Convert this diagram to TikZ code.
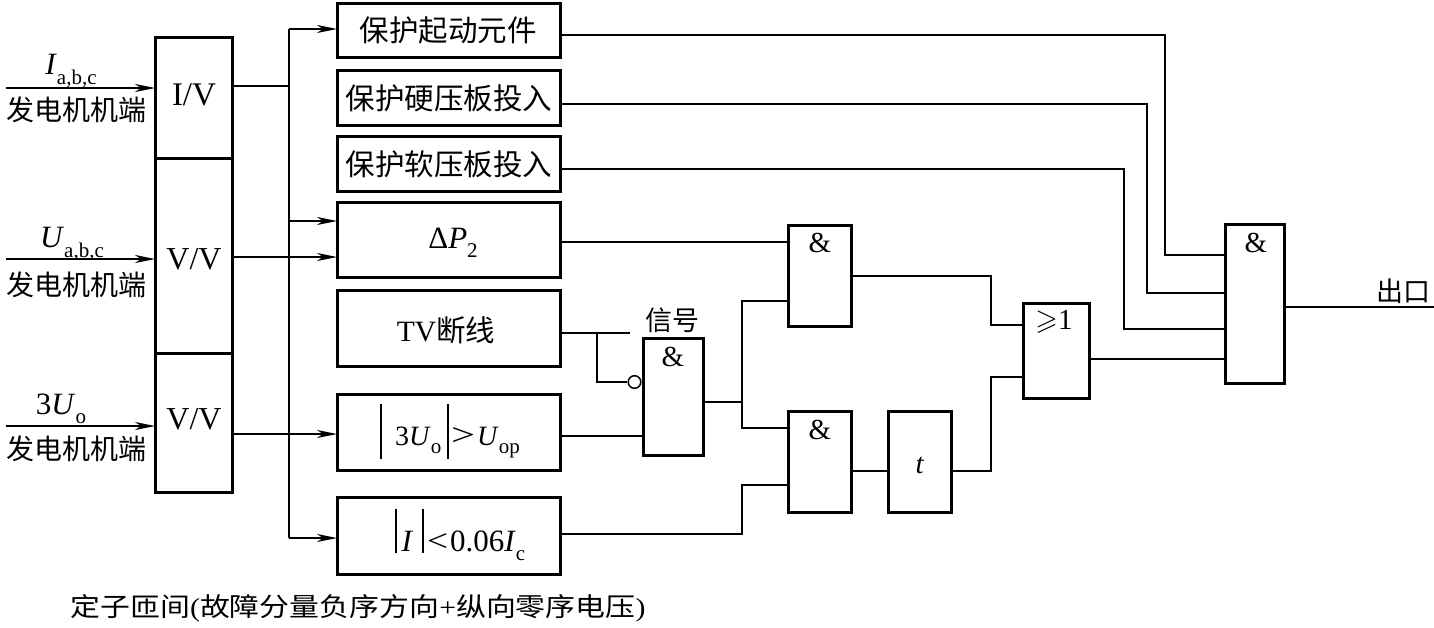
\documentclass[tikz,border=0pt]{standalone}
\usepackage{amssymb}
\usepackage{fontspec}
\setmainfont{Liberation Serif}
\newfontfamily\cjk{Noto Sans CJK SC}
\usetikzlibrary{arrows.meta,calc}
\newcommand\lowsub[1]{\raisebox{-0.3em}{\fontsize{21}{21}\selectfont #1}}
\newcommand\vbarr[2]{\rule[-#1]{1.8pt}{#2}}
\begin{document}
\begin{tikzpicture}[x=1pt,y=-1pt,
  blk/.style={draw,line width=3pt,inner sep=0pt,outer sep=0pt,anchor=north west},
  wire/.style={line width=1.5pt},
  arr/.style={wire,-{Stealth[length=20pt,width=8pt,inset=6pt]}},
  cjkt/.style={font=\cjk\fontsize{29.5}{31}\selectfont,inner sep=0pt},
  cjks/.style={font=\cjk\fontsize{27}{29}\selectfont,inner sep=0pt},
  lat/.style={font=\fontsize{30}{32}\selectfont,inner sep=0pt},
  gl/.style={font=\fontsize{29}{31}\selectfont,inner sep=0pt},
]
\useasboundingbox (0,0) rectangle (1434,627);

% converter column
\node[blk,minimum width=77pt,minimum height=121pt] (c1) at (155,37) {};
\node[blk,minimum width=77pt,minimum height=195pt] (c2) at (155,158) {};
\node[blk,minimum width=77pt,minimum height=139pt] (c3) at (155,353) {};
\node[lat,font=\fontsize{33}{35}\selectfont] (c1t) at (194,95) {I/V};
\node[lat,font=\fontsize{32}{34}\selectfont] (c2t) at (194,259) {V/V};
\node[lat,font=\fontsize{32}{34}\selectfont] (c3t) at (194,419) {V/V};

% inputs
\coordinate (in1) at (6,88);
\coordinate (in2) at (6,259);
\coordinate (in3) at (6,426);
\draw[arr] (in1) -- (in1 -| c1.west);
\draw[arr] (in2) -- (in2 -| c2.west);
\draw[arr] (in3) -- (in3 -| c3.west);
\node[lat,font=\fontsize{31}{33}\selectfont] (l1) at (71,71) {\textit{I}\lowsub{a,b,c}};
\node[lat,font=\fontsize{31}{33}\selectfont] (l2) at (72,244) {\textit{U}\lowsub{a,b,c}};
\node[lat,font=\fontsize{31}{33}\selectfont] (l3) at (61,409) {3\textit{U}\lowsub{o}};
\node[cjks,font=\cjk\fontsize{28}{30}\selectfont] (g1) at (76,110) {发电机机端};
\node[cjks,font=\cjk\fontsize{28}{30}\selectfont] (g2) at (76,285) {发电机机端};
\node[cjks,font=\cjk\fontsize{28}{30}\selectfont] (g3) at (76,449) {发电机机端};

% right boxes
\node[blk,minimum width=223pt,minimum height=54pt] (b1) at (337,3) {};
\node[blk,minimum width=223pt,minimum height=55pt] (b2) at (337,70) {};
\node[blk,minimum width=223pt,minimum height=55pt] (b3) at (337,136) {};
\node[blk,minimum width=223pt,minimum height=75pt] (b4) at (337,202) {};
\node[blk,minimum width=223pt,minimum height=76pt] (b5) at (337,290) {};
\node[blk,minimum width=223pt,minimum height=76pt] (b6) at (337,394) {};
\node[blk,minimum width=223pt,minimum height=77pt] (b7) at (337,497) {};
\node[cjkt] (b1t) at (448,30) {保护起动元件};
\node[cjkt] (b2t) at (449,98) {保护硬压板投入};
\node[cjkt] (b3t) at (449,164) {保护软压板投入};
\node[lat,font=\fontsize{31}{33}\selectfont] (b4t) at (453,243) {Δ\textit{P}\lowsub{2}};
\node[lat,font=\fontsize{29.5}{31}\selectfont] (b5t) at (446,330) {TV{\cjk 断线}};
\node[lat,font=\fontsize{28}{30}\selectfont] (b6t) at (450,431) {\vbarr{13pt}{55pt}\hspace{13pt}3\textit{U}\lowsub{o}\hspace{6pt}\vbarr{13pt}{55pt}\hspace{2pt}\resizebox{24pt}{18pt}{>}\hspace{2pt}\textit{U}\lowsub{op}};
\node[lat,font=\fontsize{31}{33}\selectfont] (b7t) at (460,535) {\vbarr{2pt}{44pt}\hspace{5pt}\textit{I}\hspace{9pt}\vbarr{2pt}{44pt}\hspace{3pt}\resizebox{21pt}{18pt}{<}\hspace{2pt}0.06\textit{I}\lowsub{c}};

% bus
\coordinate (bt) at (289,29);
\coordinate (bm) at (289,221);
\coordinate (bb) at (289,538);
\draw[wire] (bt) -- (bb);
\draw[wire] (c1.east |- 0,86) -- (bt |- 0,86);
\draw[arr] (bt) -- (bt -| b1.west);
\draw[arr] (bm) -- (bm -| b4.west);
\draw[arr] (bb) -- (bb -| b7.west);
\draw[arr] (c2.east |- 0,257) -- (b4.west |- 0,257);
\draw[arr] (c3.east |- 0,434) -- (b6.west |- 0,434);

% gates
\node[blk,minimum width=63pt,minimum height=101pt] (and1) at (788,225) {};
\node[blk,minimum width=60pt,minimum height=117pt] (andn) at (643,338) {};
\node[blk,minimum width=63pt,minimum height=101pt] (and2) at (788,411) {};
\node[blk,minimum width=63pt,minimum height=101pt] (tb) at (888,411) {};
\node[blk,minimum width=66pt,minimum height=95pt] (or) at (1023,303) {};
\node[blk,minimum width=59pt,minimum height=159pt] (and4) at (1225,224) {};
\node[gl] (and1t) at (820,243) {\&};
\node[gl] (andnt) at (673,357) {\&};
\node[gl] (and2t) at (820,430) {\&};
\node[gl] (tbt) at (920,465) {\textit{t}};
\node[gl] (ort) at (1054,322) {$\geqslant$1};
\node[gl] (and4t) at (1256,243) {\&};
\node[draw,circle,line width=1.5pt,minimum size=12.6pt,inner sep=0pt] (bub) at (634.5,382) {};

% wires on the right
\draw[wire] (b1.east |- 0,35) -- (1165,35) |- (and4.west |- 0,255);
\draw[wire] (b2.east |- 0,104) -- (1147,104) |- (and4.west |- 0,293);
\draw[wire] (b3.east |- 0,169) -- (1124,169) |- (and4.west |- 0,329);
\draw[wire] (or.east |- 0,359) -- (and4.west |- 0,359);
\coordinate (out) at (1434,307);
\draw[wire] (and4.east |- out) -- (out);
\node[cjks] (outl) at (1403,291) {出口};

\draw[wire] (b4.east |- 0,242) -- (and1.west |- 0,242);
\coordinate (sig) at (630,333);
\draw[wire] (b5.east |- sig) -- (sig);
\draw[wire] (597,333) |- (bub.west);
\node[cjks] (sigl) at (672,320) {信号};
\draw[wire] (b6.east |- 0,436) -- (andn.west |- 0,436);
\draw[wire] (andn.east |- 0,402) -- (742,402);
\draw[wire] (and1.west |- 0,301) -| (742,428) -- (and2.west |- 0,428);
\draw[wire] (b7.east |- 0,534) -| (742,485) -- (and2.west |- 0,485);
\draw[wire] (and1.east |- 0,276) -- (991,276) |- (or.west |- 0,325);
\draw[wire] (and2.east |- 0,471) -- (tb.west |- 0,471);
\draw[wire] (tb.east |- 0,471) -- (991,471) |- (or.west |- 0,377);

% caption
\node[inner sep=0pt,font=\cjk\fontsize{26}{28}\selectfont] (cap) at (358,608) {\scalebox{1.15}[1]{定子匝间{\rmfamily(}故障分量负序方向{\rmfamily+}纵向零序电压{\rmfamily)}}};
\end{tikzpicture}
\end{document}
